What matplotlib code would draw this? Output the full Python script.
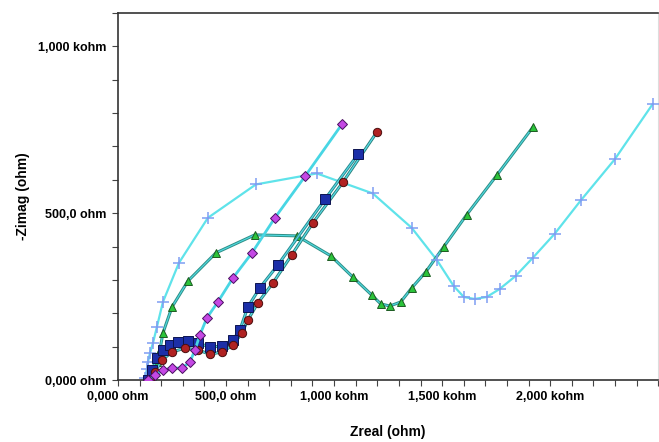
import numpy as np
import matplotlib.pyplot as plt
from matplotlib.ticker import MultipleLocator, FixedLocator, FixedFormatter

plt.rcParams['font.family'] = ['Liberation Sans', 'DejaVu Sans']

# Nyquist data (ohm): Zreal, -Zimag
cross_x = [125, 134, 139, 148, 162, 180, 208, 282, 416, 638, 920, 1179, 1359, 1475,
           1553, 1600, 1650, 1706, 1766, 1840, 1919, 2020, 2141, 2298, 2473]
cross_y = [6, 33, 54, 81, 111, 159, 234, 351, 486, 586, 619, 559, 456, 360,
           282, 249, 243, 249, 273, 312, 366, 438, 538, 661, 826]

tri_x = [157, 166, 180, 194, 208, 250, 324, 453, 633, 828, 985, 1086, 1174, 1216,
         1258, 1308, 1359, 1424, 1507, 1613, 1752, 1919]
tri_y = [9, 30, 54, 90, 141, 219, 297, 381, 435, 432, 372, 309, 255, 228,
         222, 234, 276, 324, 399, 495, 613, 757]

dia_x = [139, 171, 208, 250, 296, 333, 356, 379, 411, 462, 532, 620, 726, 865, 1036]
dia_y = [0, 15, 30, 36, 36, 54, 90, 135, 186, 234, 306, 381, 486, 610, 766]

sq_x = [139, 157, 180, 208, 240, 277, 324, 370, 425, 481, 532, 564, 601, 656, 740, 957, 1110]
sq_y = [0, 30, 66, 90, 105, 114, 117, 111, 99, 102, 120, 150, 219, 276, 345, 541, 676]

circ_x = [148, 171, 203, 250, 310, 370, 425, 481, 532, 573, 601, 647, 717, 804, 902, 1040, 1197]
circ_y = [0, 24, 60, 84, 96, 90, 78, 84, 105, 141, 180, 231, 291, 375, 471, 592, 742]

xticks = [0, 500, 1000, 1500, 2000]
xlabels = ['0,000 ohm', '500,0 ohm', '1,000 kohm', '1,500 kohm', '2,000 kohm']
yticks = [0, 500, 1000]
ylabels = ['0,000 ohm', '500,0 ohm', '1,000 kohm']

fig = plt.figure(figsize=(6.59, 4.42), dpi=100)
ax = fig.add_axes([0.179, 0.14, 0.820, 0.831])

# each curve: darker fit line under a cyan line, then the markers
ax.plot(cross_x, cross_y, color='#5fe3ea', lw=1.6, zorder=2)
ax.plot(cross_x, cross_y, ls='none', marker='+', ms=9, mew=1.1,
        color='#7f9ef2', zorder=3)

ax.plot(tri_x, tri_y, color='#2f8f86', lw=2.2, zorder=2)
ax.plot(tri_x, tri_y, color='#4fd8e0', lw=0.8, zorder=2)
ax.plot(tri_x, tri_y, ls='none', marker='^', ms=6, mfc='#2bc43a', mec='#1d5a22',
        mew=0.7, zorder=3)

ax.plot(sq_x, sq_y, color='#2a8a90', lw=2.2, zorder=4)
ax.plot(sq_x, sq_y, color='#58dbe6', lw=0.8, zorder=4)
ax.plot(sq_x, sq_y, ls='none', marker='s', ms=6.5, mfc='#1c2fa8', mec='#0c1450',
        mew=0.7, zorder=5)

ax.plot(circ_x, circ_y, color='#2a7f7a', lw=2.2, zorder=4)
ax.plot(circ_x, circ_y, color='#58dbe6', lw=0.9, zorder=4)
ax.plot(circ_x, circ_y, ls='none', marker='o', ms=6, mfc='#b02222', mec='#4a0d0d',
        mew=0.7, zorder=5)

ax.plot(dia_x, dia_y, color='#48d6e4', lw=2.0, zorder=6)
ax.plot(dia_x, dia_y, ls='none', marker='D', ms=5.5, mfc='#c448e4', mec='#4a1060',
        mew=0.7, zorder=7)

ax.set_xlim(0, 2500)
ax.set_ylim(0, 1100)

ax.xaxis.set_major_locator(FixedLocator(xticks))
ax.xaxis.set_major_formatter(FixedFormatter(xlabels))
ax.xaxis.set_minor_locator(MultipleLocator(100))
ax.yaxis.set_major_locator(FixedLocator(yticks))
ax.yaxis.set_major_formatter(FixedFormatter(ylabels))
ax.yaxis.set_minor_locator(MultipleLocator(100))

ax.tick_params(which='both', direction='out', length=4, width=0.8, color='#444444')
ax.tick_params(axis='both', labelsize=9, pad=4)
for lab in ax.get_xticklabels() + ax.get_yticklabels():
    lab.set_fontweight('bold')

for side in ['left', 'bottom', 'top']:
    ax.spines[side].set_color('#333333')
    ax.spines[side].set_linewidth(1.2)
ax.spines['right'].set_color('#dddddd')

ax.set_xlabel('Zreal (ohm)', fontsize=10, fontweight='bold', labelpad=16)
ax.set_ylabel('-Zimag (ohm)', fontsize=10, fontweight='bold', labelpad=6)

fig.savefig('out.png', dpi=100)
